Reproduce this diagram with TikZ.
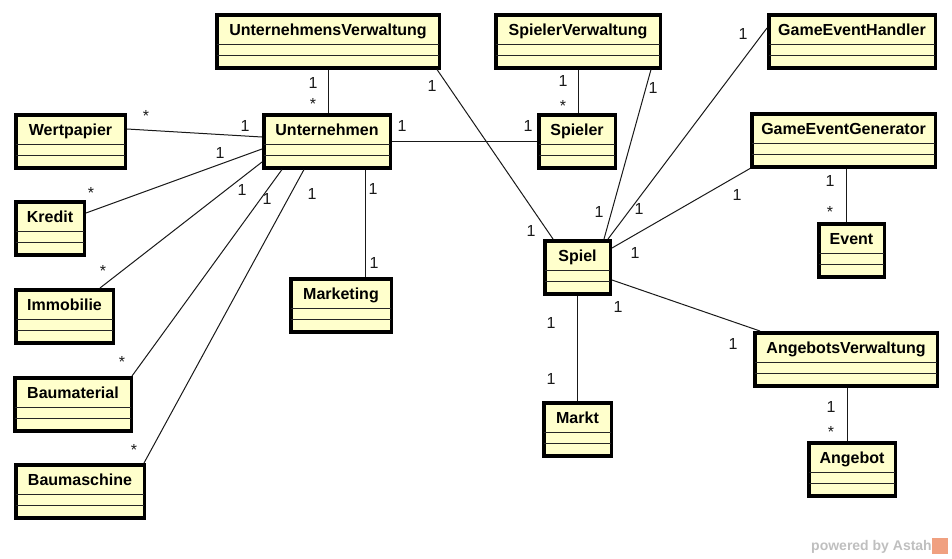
\documentclass[tikz,border=0pt]{standalone}
\usepackage{fontspec}
\setmainfont{Liberation Sans}
\usepackage{tikz}
\usetikzlibrary{calc}
\definecolor{classfill}{HTML}{FFFFCC}
\definecolor{astahgray}{HTML}{BFBFBF}
\definecolor{astahorange}{HTML}{F0A080}
% class box: name, x, y, width, title
\newcommand{\umlclass}[5]{%
  \node[umlbox,minimum width={(#4-3.5)*1pt}] (#1) at (#2,#3) {#5};
  \draw[comp] ([shift={(1.75,31.5)}]#1.north west) -- ([shift={(-1.75,31.5)}]#1.north east);
  \draw[comp] ([shift={(1.75,42.5)}]#1.north west) -- ([shift={(-1.75,42.5)}]#1.north east);}

\begin{document}
\begin{tikzpicture}[x=1pt,y=-1pt,
  umlbox/.style={draw,line width=3.5pt,fill=classfill,anchor=north west,inner sep=0pt,
     font=\fontsize{16}{18}\selectfont\bfseries,text height=21pt,text depth=32pt},
  comp/.style={line width=1.2pt,black!85},
  assoc/.style={line width=1pt,black!90},
  mult/.style={font=\fontsize{16}{18}\selectfont,anchor=base,inner sep=0pt}]
\useasboundingbox (0,0) rectangle (952,558);
\umlclass{uv}{215}{13}{226}{UnternehmensVerwaltung}
\umlclass{unt}{262}{113}{130}{Unternehmen}
\umlclass{wert}{14}{113}{113}{Wertpapier}
\umlclass{kredit}{14}{200}{72}{Kredit}
\umlclass{immo}{14}{288}{101}{Immobilie}
\umlclass{baumat}{13}{376}{120}{Baumaterial}
\umlclass{baumasch}{14}{463}{132}{Baumaschine}
\umlclass{mark}{289}{277}{104}{Marketing}
\umlclass{sv}{494}{13}{168}{SpielerVerwaltung}
\umlclass{spieler}{537}{113}{80}{Spieler}
\umlclass{geh}{767}{13}{170}{GameEventHandler}
\umlclass{geg}{750}{112}{187}{GameEventGenerator}
\umlclass{event}{817}{222}{69}{Event}
\umlclass{spiel}{543}{239}{69}{Spiel}
\umlclass{markt}{542}{401}{71}{Markt}
\umlclass{av}{753}{331}{186}{AngebotsVerwaltung}
\umlclass{angebot}{807}{441}{90}{Angebot}
% associations
\draw[assoc] (uv.south) -- (uv.south |- unt.north)
  node[mult] at (313,88) {1} node[mult] at (313,109) {*};
\draw[assoc] ([xshift=-4pt]uv.south east) -- ([xshift=10pt]spiel.north west)
  node[mult] at (432,91) {1} node[mult] at (531,236) {1};
\draw[assoc] ([yshift=-16pt]wert.north east) -- ([yshift=-24pt]unt.north west)
  node[mult] at (146,121) {*} node[mult] at (245,131) {1};
\draw[assoc] ([yshift=-13pt]kredit.north east) -- ([yshift=-36pt]unt.north west)
  node[mult] at (91,198) {*} node[mult] at (220,158) {1};
\draw[assoc] ([xshift=-15pt]immo.north east) -- ([yshift=-49pt]unt.north west)
  node[mult] at (103,276) {*} node[mult] at (242,195) {1};
\draw[assoc] ([xshift=-1pt]baumat.north east) -- ([xshift=20pt]unt.south west)
  node[mult] at (122,367) {*} node[mult] at (267,204) {1};
\draw[assoc] ([xshift=-2pt]baumasch.north east) -- ([xshift=42pt]unt.south west)
  node[mult] at (134,455) {*} node[mult] at (312,199) {1};
\draw[assoc] ([xshift=103pt]unt.south west) -- ([xshift=103pt]unt.south west |- mark.north)
  node[mult] at (373,194) {1} node[mult] at (374,268) {1};
\draw[assoc] (unt.east) -- (spieler.west)
  node[mult] at (402,131) {1} node[mult] at (528,131) {1};
\draw[assoc] (sv.south) -- (sv.south |- spieler.north)
  node[mult] at (563,86) {1} node[mult] at (563,111) {*};
\draw[assoc] ([xshift=-11pt]sv.south east) -- ([xshift=-8pt]spiel.north east)
  node[mult] at (653,93) {1} node[mult] at (599,217) {1};
\draw[assoc] ([yshift=-15pt]geh.north west) -- ([xshift=-4pt]spiel.north east)
  node[mult] at (743,39) {1} node[mult] at (639,214) {1};
\draw[assoc] (geg.south west) -- ([yshift=-9pt]spiel.north east)
  node[mult] at (737,200) {1} node[mult] at (635,258) {1};
\draw[assoc] ([xshift=96pt]geg.south west) -- ([xshift=96pt]geg.south west |- event.north)
  node[mult] at (830,186) {1} node[mult] at (830,217) {*};
\draw[assoc] ([yshift=-41pt]spiel.north east) -- ([xshift=7pt]av.north west)
  node[mult] at (618,312) {1} node[mult] at (733,349) {1};
\draw[assoc] (spiel.south) -- (spiel.south |- markt.north)
  node[mult] at (551,328) {1} node[mult] at (551,384) {1};
\draw[assoc] ([xshift=94pt]av.south west) -- ([xshift=94pt]av.south west |- angebot.north)
  node[mult] at (831,412) {1} node[mult] at (831,437) {*};
% watermark
\node[font=\fontsize{14}{16}\selectfont\bfseries,text=astahgray,anchor=base east,inner sep=0pt]
  (powered) at (932,550) {powered by Astah};
\node[fill=astahorange,minimum size=16pt,inner sep=0pt,anchor=west] (logo) at (powered.east) {};
\end{tikzpicture}
\end{document}
